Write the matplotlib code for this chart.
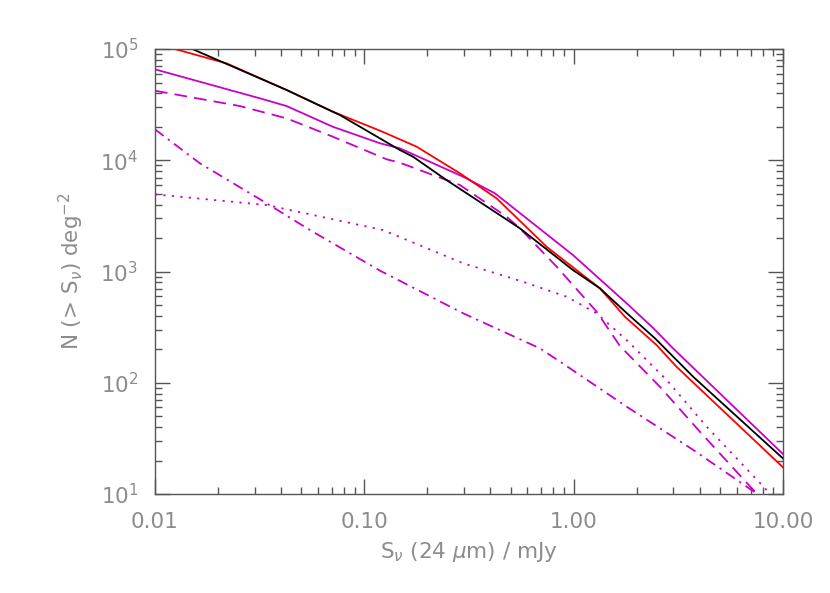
import matplotlib
matplotlib.use("Agg")
import matplotlib.pyplot as plt
from matplotlib.ticker import FixedLocator, LogLocator, NullFormatter

# ---- data (S in mJy, N(>S) in deg^-2) ----
black_s = [0.01, 0.0426, 0.0765, 0.148, 0.171, 0.247, 0.554, 0.993, 1.336, 1.792, 2.447, 3.73, 10.0]
black_n = [140000, 42800, 25500, 12360, 10760, 6645, 2445, 1031, 706, 424, 251, 113, 20.9]

red_s = [0.01, 0.01246, 0.022, 0.0426, 0.0708, 0.119, 0.178, 0.2865, 0.4287, 0.743, 1.336, 1.759, 2.493, 3.106, 10.0]
red_n = [112000, 100000, 74300, 42800, 27300, 18440, 13240, 7630, 4550, 1671, 706, 392, 218, 139, 17.4]

tot_s = [0.01, 0.0318, 0.0426, 0.0708, 0.119, 0.148, 0.297, 0.421, 0.993, 1.792, 2.402, 2.984, 10.0]
tot_n = [65700, 36000, 30700, 20000, 14210, 12800, 7110, 5045, 1407, 518, 310, 204, 22.9]

dash_s = [0.01, 0.0255, 0.0426, 0.0708, 0.128, 0.148, 0.2865, 0.4786, 0.554, 0.830, 1.289, 1.665, 2.585, 4.013, 7.21, 10.0]
dash_n = [42200, 30700, 23800, 16280, 10200, 9510, 5990, 3110, 2445, 1105, 435, 214, 92, 36.3, 10.9, 6.5]

dot_s = [0.01, 0.0342, 0.1228, 0.297, 0.574, 0.926, 1.289, 1.792, 2.783, 4.32, 8.67, 10.0]
dot_n = [4940, 3960, 2360, 1186, 809, 594, 421, 242, 106, 40.3, 10.1, 7.5]

dd_s = [0.01, 0.0164, 0.0342, 0.055, 0.119, 0.297, 0.690, 0.861, 1.792, 3.73, 7.49, 10.0]
dd_n = [18970, 9390, 4100, 2360, 1017, 421, 204, 155, 61, 24.9, 10.1, 7.5]

xticks = [0.01, 0.1, 1.0, 10.0]
xticklabels = ["0.01", "0.10", "1.00", "10.00"]
yticks = [1e1, 1e2, 1e3, 1e4, 1e5]
yticklabels = [r"$10^{1}$", r"$10^{2}$", r"$10^{3}$", r"$10^{4}$", r"$10^{5}$"]

MAG = "#c800c8"
TXT = "#8c8c8c"
AX = "#555555"

plt.rcParams["mathtext.fontset"] = "dejavusans"
fig = plt.figure(figsize=(8.30, 5.93), dpi=100)
ax = fig.add_axes([0.1867, 0.1669, 0.7566, 0.7504])

lw = 1.3
ax.plot(dd_s, dd_n, color=MAG, lw=lw, linestyle=(0, (6, 3, 1.2, 3)))
ax.plot(dot_s, dot_n, color=MAG, lw=lw, linestyle=(0, (1.2, 3.5)))
ax.plot(dash_s, dash_n, color=MAG, lw=lw, linestyle=(0, (7, 4)))
ax.plot(tot_s, tot_n, color=MAG, lw=lw)
ax.plot(red_s, red_n, color="#ff0000", lw=lw)
ax.plot(black_s, black_n, color="black", lw=lw)

ax.set_xscale("log")
ax.set_yscale("log")
ax.set_xlim(0.01, 10.0)
ax.set_ylim(10, 1e5)

ax.xaxis.set_major_locator(FixedLocator(xticks))
ax.set_xticklabels(xticklabels)
ax.yaxis.set_major_locator(FixedLocator(yticks))
ax.set_yticklabels(yticklabels)
ax.xaxis.set_minor_locator(LogLocator(base=10, subs=range(2, 10)))
ax.yaxis.set_minor_locator(LogLocator(base=10, subs=range(2, 10)))
ax.xaxis.set_minor_formatter(NullFormatter())
ax.yaxis.set_minor_formatter(NullFormatter())

ax.tick_params(which="both", direction="in", top=True, right=True, colors=AX,
               labelcolor=TXT, labelsize=15.5)
ax.tick_params(which="major", length=11, width=1.0)
ax.tick_params(axis="x", which="major", pad=13)
ax.tick_params(axis="y", which="major", pad=12)
ax.tick_params(which="minor", length=5, width=1.0)
for s in ax.spines.values():
    s.set_color(AX)
    s.set_linewidth(1.0)

ax.set_xlabel(r"S$_\nu$ (24 $\mu$m) / mJy", color=TXT, fontsize=15.5, labelpad=6)
ax.set_ylabel(r"N (> S$_\nu$) deg$^{-2}$", color=TXT, fontsize=15.5, labelpad=10)

fig.savefig("out.png", dpi=100)
